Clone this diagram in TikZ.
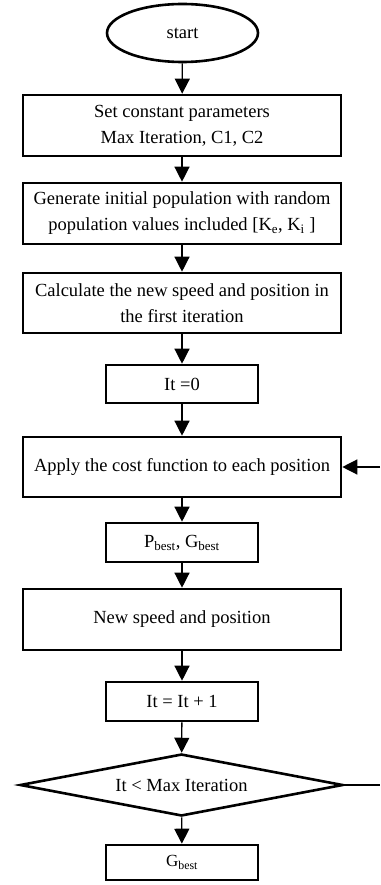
\documentclass[tikz,border=0pt]{standalone}
\usepackage{fontspec}
\setmainfont{Liberation Serif}
\usetikzlibrary{shapes.geometric,arrows.meta}
\tikzset{
  txt/.style={font=\fontsize{18.5}{26}\selectfont},
  box/.style={draw, line width=2.6pt, rectangle, inner sep=0pt, align=center, txt},
  wide/.style={box, minimum width=318pt},
  narrow/.style={box, minimum width=152pt},
  conn/.style={line width=1.3pt, -{Triangle[width=15pt,length=15pt]}},
  plain/.style={line width=1.3pt}
}
\begin{document}
\begin{tikzpicture}[x=1pt,y=-1pt]
\useasboundingbox (0,0) rectangle (380,885);
\node[draw, line width=2.6pt, ellipse, minimum width=151pt, minimum height=58pt, inner sep=0pt, txt] (start) at (182.5,33) {start};
\node[wide, minimum height=61pt] (b1) at (182,125.5) {Set constant parameters\\Max Iteration, C1, C2};
\node[wide, minimum height=61pt] (b2) at (182,213.5) {Generate initial population with random\\population values included [K\textsubscript{e}, K\textsubscript{i} ]};
\node[wide, minimum height=60pt] (b3) at (182,303) {Calculate the new speed and position in\\the first iteration};
\node[narrow, minimum height=38pt] (b4) at (182,384) {It =0};
\node[wide, minimum height=60pt] (b5) at (182,467) {Apply the cost function to each position};
\node[narrow, minimum height=39pt] (b6) at (182,542.5) {P\textsubscript{best}, G\textsubscript{best}};
\node[wide, minimum height=61pt] (b7) at (182,619.5) {New speed and position};
\node[narrow, minimum height=39pt] (b8) at (182,701.5) {It = It + 1};
\node[draw, line width=2.6pt, diamond, aspect=5, minimum width=323pt, minimum height=62pt, inner sep=0pt, txt] (d) at (181.5,785) {It {\textless} Max Iteration};
\node[narrow, minimum height=35pt, font=\fontsize{17}{22}\selectfont] (b9) at (182,862.5) {G\textsubscript{best}};
\coordinate (rin) at (380,467);
\coordinate (rout) at (380,785);
\draw[conn] (start) -- (b1);
\draw[conn] (b1) -- (b2);
\draw[conn] (b2) -- (b3);
\draw[conn] (b3) -- (b4);
\draw[conn] (b4) -- (b5);
\draw[conn] (b5) -- (b6);
\draw[conn] (b6) -- (b7);
\draw[conn] (b7) -- (b8);
\draw[conn] (b8) -- (d);
\draw[conn] (d) -- (b9);
\draw[conn] (rin) -- (b5.east);
\draw[plain] (d.east) -- (rout);
\end{tikzpicture}
\end{document}
